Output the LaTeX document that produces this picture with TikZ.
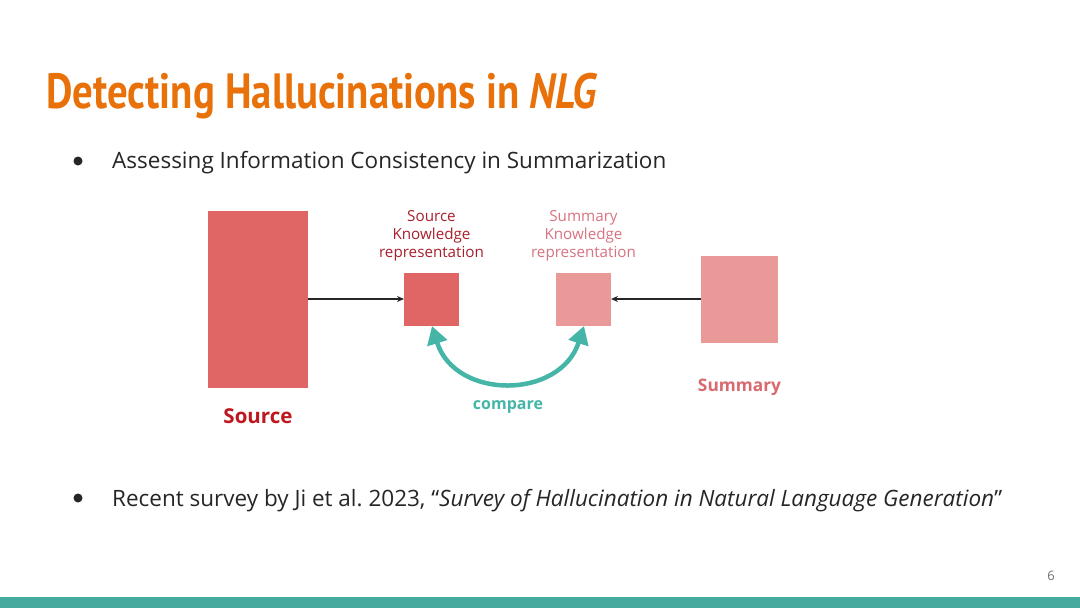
\documentclass[tikz,border=0pt]{standalone}
\usepackage{fontspec}
\setmainfont{Open Sans}
\newfontfamily\titlefont[FakeStretch=0.825]{PT Sans}
\usetikzlibrary{arrows.meta}
\definecolor{titleorange}{HTML}{E8710A}
\definecolor{bodytext}{HTML}{262626}
\definecolor{srcred}{HTML}{E06666}
\definecolor{sumpink}{HTML}{EA9999}
\definecolor{srclabel}{HTML}{C0161E}
\definecolor{srckrlabel}{HTML}{A8202E}
\definecolor{sumlabel}{HTML}{D86A6E}
\definecolor{sumkrlabel}{HTML}{D97380}
\definecolor{tealc}{HTML}{45B5A8}
\definecolor{barteal}{HTML}{45AB9E}
\definecolor{pagegray}{HTML}{707070}
\tikzset{
  box/.style={draw=none, inner sep=0, outer sep=0, anchor=north west},
  smalllabel/.style={align=center, inner sep=0, font=\fontsize{15.2}{18}\selectfont},
  bullettext/.style={inner sep=0, anchor=base west, text=bodytext, font=\fontsize{22.5}{26}\selectfont},
  bulletdot/.style={circle, fill=bodytext, inner sep=0, minimum size=9},
  flow/.style={draw=black!85, line width=1.3, -{Stealth[length=7,width=6]}},
  cmp/.style={draw=tealc, line width=4.5, {Triangle[length=18,width=20]}-{Triangle[length=18,width=20]}}
}
\begin{document}
\frenchspacing
\begin{tikzpicture}[x=1pt,y=-1pt]
\useasboundingbox (0,0) rectangle (1080,608);
\fill[white] (0,0) rectangle (1080,608);
% bottom bar
\fill[barteal] (0,597) rectangle (1080,608);
% title
\node[inner sep=0, anchor=base west, text=titleorange, font=\titlefont\bfseries\fontsize{49.5}{52}\selectfont] (title) at (46,108) {Detecting Hallucinations in \textit{NLG}};
% bullets
\node[bulletdot] (b1) at (78,161) {};
\node[bullettext] (t1) at (112,168) {Assessing Information Consistency in Summarization};
\node[bulletdot] (b2) at (78,498) {};
\node[bullettext] (t2) at (112,506) {Recent survey by Ji et al. 2023, \textquotedblleft\textit{Survey of Hallucination in Natural Language Generation}\textquotedblright};
% boxes
\node[box, fill=srcred, minimum width=100, minimum height=177] (src) at (208,211) {};
\node[box, fill=srcred, minimum width=55, minimum height=53] (skr) at (404,273) {};
\node[box, fill=sumpink, minimum width=55, minimum height=53] (sumkr) at (556,273) {};
\node[box, fill=sumpink, minimum width=77, minimum height=87] (sum) at (701,256) {};
% labels
\node[smalllabel, text=srckrlabel] (skrl) at (431.5,236) {Source\\Knowledge\\representation};
\node[smalllabel, text=sumkrlabel] (sumkrl) at (583.5,236) {Summary\\Knowledge\\representation};
\node[inner sep=0, anchor=base, text=srclabel, font=\bfseries\fontsize{20.5}{24}\selectfont] (srcl) at (258,423) {Source};
\node[inner sep=0, anchor=base, text=sumlabel, font=\bfseries\fontsize{17.3}{20}\selectfont] (suml) at (739.5,391) {Summary};
\node[inner sep=0, anchor=base, text=tealc, font=\bfseries\fontsize{16}{19}\selectfont] (cmpl) at (508,409) {compare};
% arrows
\draw[flow] (src.east |- 0,299) -- (skr.west |- 0,299);
\draw[flow] (sum.west |- 0,299) -- (sumkr.east |- 0,299);
\draw[cmp] ([xshift=0.5pt]skr.south) .. controls (455,400) and (560,400) .. ([xshift=0.5pt]sumkr.south);
% page number
\node[inner sep=0, anchor=base, text=pagegray, font=\fontsize{13}{15}\selectfont] (pg) at (1051,580) {6};
\end{tikzpicture}
\end{document}
